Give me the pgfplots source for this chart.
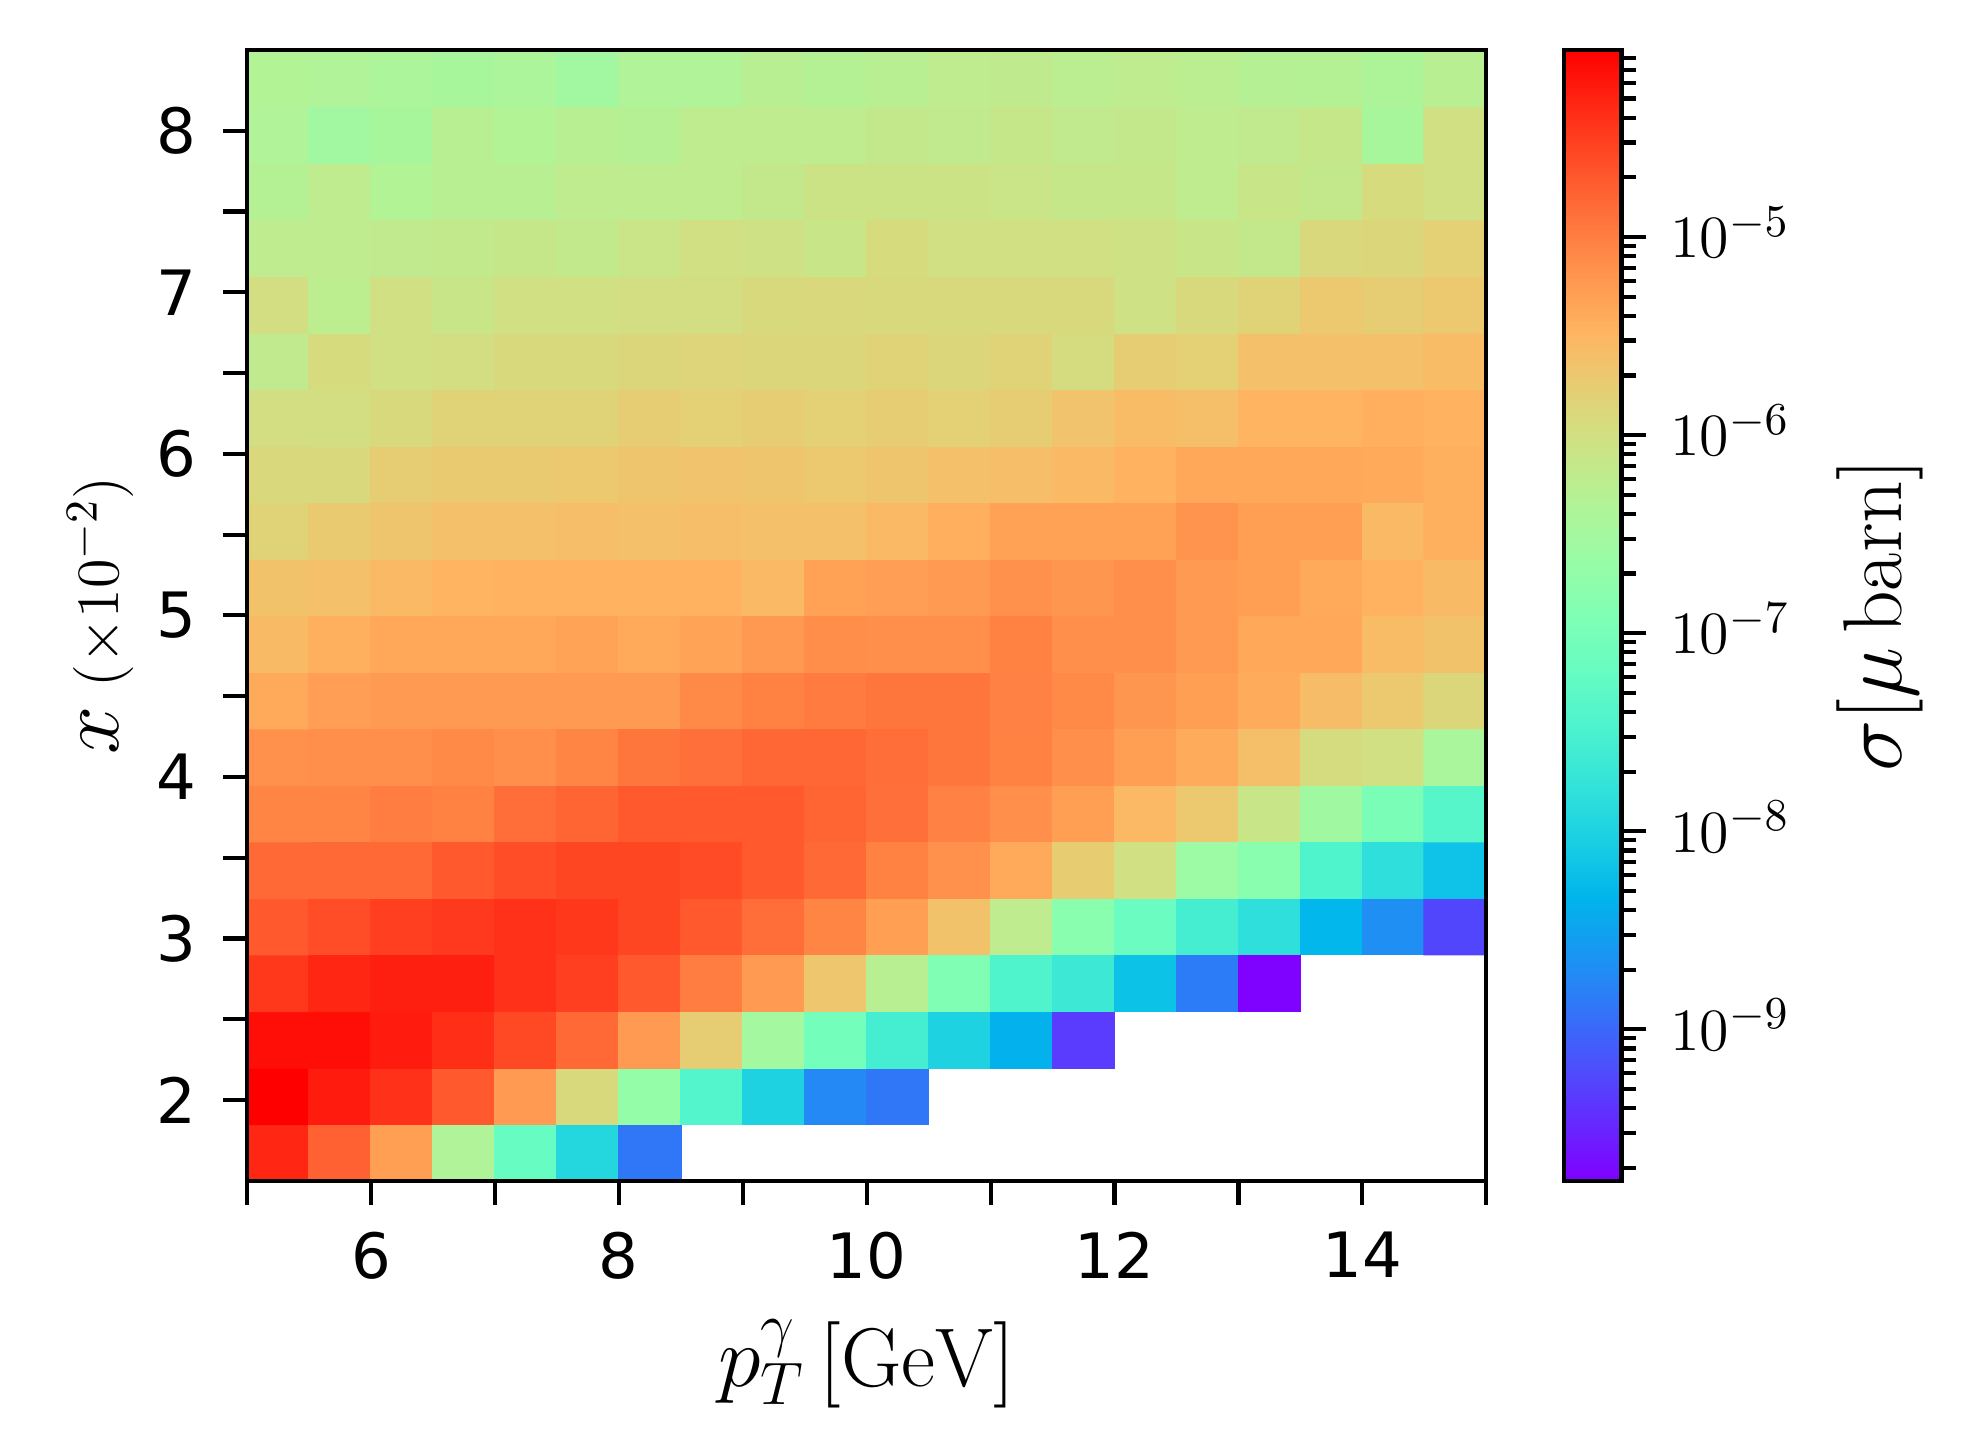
\documentclass[border=0pt]{standalone}
\usepackage{fontspec}
\usepackage{pgfplots}
\pgfplotsset{compat=1.18}
\newfontfamily\dejavu{DejaVu Sans}
\pgfplotsset{
  colormap={mplrainbow}{
    rgb=(0.5,0,1) rgb=(0.4,0.156,0.997) rgb=(0.3,0.309,0.988) rgb=(0.2,0.454,0.972)
    rgb=(0.1,0.588,0.951) rgb=(0,0.707,0.924) rgb=(0.1,0.809,0.891) rgb=(0.2,0.891,0.853)
    rgb=(0.3,0.951,0.809) rgb=(0.4,0.988,0.760) rgb=(0.5,1,0.707) rgb=(0.6,0.988,0.649)
    rgb=(0.7,0.951,0.588) rgb=(0.8,0.891,0.522) rgb=(0.9,0.809,0.454) rgb=(1,0.707,0.383)
    rgb=(1,0.588,0.309) rgb=(1,0.454,0.233) rgb=(1,0.309,0.156) rgb=(1,0.156,0.078)
    rgb=(1,0,0)
  }
}
% log10 of sigma [mu barn]; nan = empty bin
\pgfplotstableread{
x y v
5.25 1.675 -4.34
5.75 1.675 -4.77
6.25 1.675 -5.28
6.75 1.675 -6.37
7.25 1.675 -7.20
7.75 1.675 -7.94
8.25 1.675 -8.88
8.75 1.675 nan
9.25 1.675 nan
9.75 1.675 nan
10.25 1.675 nan
10.75 1.675 nan
11.25 1.675 nan
11.75 1.675 nan
12.25 1.675 nan
12.75 1.675 nan
13.25 1.675 nan
13.75 1.675 nan
14.25 1.675 nan
14.75 1.675 nan
5.25 2.025 -4.06
5.75 2.025 -4.25
6.25 2.025 -4.42
6.75 2.025 -4.71
7.25 2.025 -5.24
7.75 2.025 -5.92
8.25 2.025 -6.68
8.75 2.025 -7.42
9.25 2.025 -8.00
9.75 2.025 -8.74
10.25 2.025 -8.88
10.75 2.025 nan
11.25 2.025 nan
11.75 2.025 nan
12.25 2.025 nan
12.75 2.025 nan
13.25 2.025 nan
13.75 2.025 nan
14.25 2.025 nan
14.75 2.025 nan
5.25 2.375 -4.16
5.75 2.375 -4.16
6.25 2.375 -4.25
6.75 2.375 -4.39
7.25 2.375 -4.58
7.75 2.375 -4.83
8.25 2.375 -5.24
8.75 2.375 -5.76
9.25 2.375 -6.50
9.75 2.375 -7.05
10.25 2.375 -7.56
10.75 2.375 -8.00
11.25 2.375 -8.37
11.75 2.375 -9.33
12.25 2.375 nan
12.75 2.375 nan
13.25 2.375 nan
13.75 2.375 nan
14.25 2.375 nan
14.75 2.375 nan
5.25 2.725 -4.46
5.75 2.725 -4.34
6.25 2.725 -4.28
6.75 2.725 -4.28
7.25 2.725 -4.42
7.75 2.725 -4.51
8.25 2.725 -4.71
8.75 2.725 -4.99
9.25 2.725 -5.24
9.75 2.725 -5.68
10.25 2.725 -6.28
10.75 2.725 -6.91
11.25 2.725 -7.44
11.75 2.725 -7.66
12.25 2.725 -8.19
12.75 2.725 -8.84
13.25 2.725 -9.76
13.75 2.725 nan
14.25 2.725 nan
14.75 2.725 nan
5.25 3.075 -4.71
5.75 3.075 -4.62
6.25 3.075 -4.51
6.75 3.075 -4.47
7.25 3.075 -4.42
7.75 3.075 -4.46
8.25 3.075 -4.56
8.75 3.075 -4.71
9.25 3.075 -4.87
9.75 3.075 -5.06
10.25 3.075 -5.28
10.75 3.075 -5.63
11.25 3.075 -6.21
11.75 3.075 -6.80
12.25 3.075 -7.15
12.75 3.075 -7.56
13.25 3.075 -7.82
13.75 3.075 -8.31
14.25 3.075 -8.68
14.75 3.075 -9.26
5.25 3.425 -4.83
5.75 3.425 -4.83
6.25 3.425 -4.83
6.75 3.425 -4.71
7.25 3.425 -4.62
7.75 3.425 -4.56
8.25 3.425 -4.56
8.75 3.425 -4.61
9.25 3.425 -4.71
9.75 3.425 -4.83
10.25 3.425 -5.03
10.75 3.425 -5.16
11.25 3.425 -5.38
11.75 3.425 -5.74
12.25 3.425 -6.01
12.75 3.425 -6.59
13.25 3.425 -6.81
13.75 3.425 -7.44
14.25 3.425 -7.82
14.75 3.425 -8.18
5.25 3.775 -5.06
5.75 3.775 -5.06
6.25 3.775 -4.99
6.75 3.775 -5.03
7.25 3.775 -4.87
7.75 3.775 -4.79
8.25 3.775 -4.71
8.75 3.775 -4.71
9.25 3.775 -4.71
9.75 3.775 -4.79
10.25 3.775 -4.88
10.75 3.775 -5.02
11.25 3.775 -5.14
11.75 3.775 -5.28
12.25 3.775 -5.53
12.75 3.775 -5.70
13.25 3.775 -6.10
13.75 3.775 -6.55
14.25 3.775 -6.97
14.75 3.775 -7.38
5.25 4.125 -5.16
5.75 4.125 -5.14
6.25 4.125 -5.14
6.75 4.125 -5.10
7.25 4.125 -5.14
7.75 4.125 -5.06
8.25 4.125 -4.93
8.75 4.125 -4.88
9.25 4.125 -4.82
9.75 4.125 -4.82
10.25 4.125 -4.86
10.75 4.125 -4.93
11.25 4.125 -5.03
11.75 4.125 -5.14
12.25 4.125 -5.28
12.75 4.125 -5.40
13.25 4.125 -5.60
13.75 4.125 -5.96
14.25 4.125 -6.01
14.75 4.125 -6.45
5.25 4.475 -5.38
5.75 4.475 -5.27
6.25 4.475 -5.24
6.75 4.475 -5.24
7.25 4.475 -5.24
7.75 4.475 -5.24
8.25 4.475 -5.24
8.75 4.475 -5.10
9.25 4.475 -5.03
9.75 4.475 -4.97
10.25 4.475 -4.93
10.75 4.475 -4.93
11.25 4.475 -5.02
11.75 4.475 -5.10
12.25 4.475 -5.20
12.75 4.475 -5.28
13.25 4.475 -5.40
13.75 4.475 -5.57
14.25 4.475 -5.70
14.75 4.475 -5.88
5.25 4.825 -5.55
5.75 4.825 -5.44
6.25 4.825 -5.37
6.75 4.825 -5.37
7.25 4.825 -5.37
7.75 4.825 -5.33
8.25 4.825 -5.38
8.75 4.825 -5.33
9.25 4.825 -5.23
9.75 4.825 -5.13
10.25 4.825 -5.14
10.75 4.825 -5.14
11.25 4.825 -5.03
11.75 4.825 -5.14
12.25 4.825 -5.14
12.75 4.825 -5.24
13.25 4.825 -5.37
13.75 4.825 -5.37
14.25 4.825 -5.56
14.75 4.825 -5.63
5.25 5.175 -5.63
5.75 5.175 -5.61
6.25 5.175 -5.54
6.75 5.175 -5.48
7.25 5.175 -5.47
7.75 5.175 -5.47
8.25 5.175 -5.47
8.75 5.175 -5.47
9.25 5.175 -5.54
9.75 5.175 -5.31
10.25 5.175 -5.27
10.75 5.175 -5.24
11.25 5.175 -5.16
11.75 5.175 -5.20
12.25 5.175 -5.14
12.75 5.175 -5.24
13.25 5.175 -5.28
13.75 5.175 -5.38
14.25 5.175 -5.47
14.75 5.175 -5.55
5.25 5.525 -5.83
5.75 5.525 -5.72
6.25 5.525 -5.67
6.75 5.525 -5.61
7.25 5.525 -5.61
7.75 5.525 -5.59
8.25 5.525 -5.61
8.75 5.525 -5.59
9.25 5.525 -5.61
9.75 5.525 -5.61
10.25 5.525 -5.54
10.75 5.525 -5.43
11.25 5.525 -5.31
11.75 5.525 -5.31
12.25 5.525 -5.31
12.75 5.525 -5.18
13.25 5.525 -5.28
13.75 5.525 -5.28
14.25 5.525 -5.54
14.75 5.525 -5.44
5.25 5.875 -5.90
5.75 5.875 -5.90
6.25 5.875 -5.76
6.75 5.875 -5.72
7.25 5.875 -5.72
7.75 5.875 -5.70
8.25 5.875 -5.67
8.75 5.875 -5.65
9.25 5.875 -5.67
9.75 5.875 -5.70
10.25 5.875 -5.67
10.75 5.875 -5.61
11.25 5.875 -5.59
11.75 5.875 -5.54
12.25 5.875 -5.47
12.75 5.875 -5.37
13.25 5.875 -5.37
13.75 5.875 -5.37
14.25 5.875 -5.38
14.75 5.875 -5.44
5.25 6.225 -5.99
5.75 6.225 -5.99
6.25 6.225 -5.92
6.75 6.225 -5.83
7.25 6.225 -5.83
7.75 6.225 -5.83
8.25 6.225 -5.76
8.75 6.225 -5.79
9.25 6.225 -5.76
9.75 6.225 -5.79
10.25 6.225 -5.76
10.75 6.225 -5.79
11.25 6.225 -5.76
11.75 6.225 -5.65
12.25 6.225 -5.56
12.75 6.225 -5.60
13.25 6.225 -5.48
13.75 6.225 -5.48
14.25 6.225 -5.43
14.75 6.225 -5.47
5.25 6.575 -6.19
5.75 6.575 -5.94
6.25 6.575 -6.01
6.75 6.575 -5.99
7.25 6.575 -5.92
7.75 6.575 -5.92
8.25 6.575 -5.88
8.75 6.575 -5.85
9.25 6.575 -5.88
9.75 6.575 -5.88
10.25 6.575 -5.83
10.75 6.575 -5.88
11.25 6.575 -5.83
11.75 6.575 -5.96
12.25 6.575 -5.76
12.75 6.575 -5.79
13.25 6.575 -5.61
13.75 6.575 -5.61
14.25 6.575 -5.61
14.75 6.575 -5.56
5.25 6.925 -5.99
5.75 6.925 -6.23
6.25 6.925 -6.01
6.75 6.925 -6.10
7.25 6.925 -6.01
7.75 6.925 -6.01
8.25 6.925 -5.99
8.75 6.925 -5.99
9.25 6.925 -5.92
9.75 6.925 -5.90
10.25 6.925 -5.92
10.75 6.925 -5.92
11.25 6.925 -5.92
11.75 6.925 -5.92
12.25 6.925 -6.03
12.75 6.925 -5.92
13.25 6.925 -5.83
13.75 6.925 -5.70
14.25 6.925 -5.76
14.75 6.925 -5.70
5.25 7.275 -6.21
5.75 7.275 -6.21
6.25 7.275 -6.19
6.75 7.275 -6.17
7.25 7.275 -6.12
7.75 7.275 -6.17
8.25 7.275 -6.08
8.75 7.275 -6.01
9.25 7.275 -6.03
9.75 7.275 -6.10
10.25 7.275 -5.94
10.75 7.275 -6.01
11.25 7.275 -6.01
11.75 7.275 -6.01
12.25 7.275 -6.03
12.75 7.275 -6.10
13.25 7.275 -6.15
13.75 7.275 -5.90
14.25 7.275 -5.88
14.75 7.275 -5.79
5.25 7.625 -6.32
5.75 7.625 -6.21
6.25 7.625 -6.35
6.75 7.625 -6.28
7.25 7.625 -6.28
7.75 7.625 -6.21
8.25 7.625 -6.21
8.75 7.625 -6.21
9.25 7.625 -6.15
9.75 7.625 -6.05
10.25 7.625 -6.05
10.75 7.625 -6.05
11.25 7.625 -6.08
11.75 7.625 -6.12
12.25 7.625 -6.12
12.75 7.625 -6.21
13.25 7.625 -6.10
13.75 7.625 -6.15
14.25 7.625 -5.94
14.75 7.625 -6.01
5.25 7.975 -6.37
5.75 7.975 -6.52
6.25 7.975 -6.46
6.75 7.975 -6.28
7.25 7.975 -6.35
7.75 7.975 -6.28
8.25 7.975 -6.30
8.75 7.975 -6.21
9.25 7.975 -6.21
9.75 7.975 -6.21
10.25 7.975 -6.15
10.75 7.975 -6.19
11.25 7.975 -6.12
11.75 7.975 -6.19
12.25 7.975 -6.15
12.75 7.975 -6.21
13.25 7.975 -6.19
13.75 7.975 -6.12
14.25 7.975 -6.46
14.75 7.975 -6.01
5.25 8.325 -6.35
5.75 8.325 -6.37
6.25 8.325 -6.41
6.75 8.325 -6.46
7.25 8.325 -6.41
7.75 8.325 -6.52
8.25 8.325 -6.37
8.75 8.325 -6.37
9.25 8.325 -6.28
9.75 8.325 -6.32
10.25 8.325 -6.28
10.75 8.325 -6.21
11.25 8.325 -6.20
11.75 8.325 -6.26
12.25 8.325 -6.21
12.75 8.325 -6.26
13.25 8.325 -6.30
13.75 8.325 -6.32
14.25 8.325 -6.40
14.75 8.325 -6.28
}\sigmatable

\begin{document}
\begin{tikzpicture}
\useasboundingbox (-59.3pt,-66pt) rectangle (413.5pt,283.4pt);
\begin{axis}[
  at={(0,0)}, anchor=south west,
  scale only axis, width=297.4pt, height=271.4pt,
  xmin=5, xmax=15, ymin=1.5, ymax=8.5,
  enlargelimits=false,
  axis on top,
  colormap name=mplrainbow,
  point meta min=-9.765, point meta max=-4.056,
  xtick={6,8,10,12,14}, minor xtick={5,7,9,11,13,15},
  ytick={2,3,4,5,6,7,8}, minor ytick={2.5,3.5,4.5,5.5,6.5,7.5},
  xtick pos=bottom, ytick pos=left,
  tick align=outside,
  major tick length=5.7pt, minor tick length=5.7pt,
  every tick/.style={black, line width=1pt},
  axis line style={line width=1pt},
  /pgf/number format/assume math mode=true,
  ticklabel style={font=\dejavu\fontsize{15}{18}\selectfont},
  xticklabel style={yshift=-3pt},
  yticklabel style={xshift=-3pt},
  xlabel={$p_T^{\gamma}\,[\mathrm{GeV}]$},
  xlabel style={font=\fontsize{20}{24}\selectfont, at={(axis description cs:0.5,-0.1617)}, anchor=center},
  ylabel={$x$\hspace{4.5pt}{\fontsize{15}{18}\selectfont$(\times10^{-2})$}},
  ylabel style={font=\fontsize{20}{24}\selectfont, at={(axis description cs:-0.1184,0.5)}, anchor=center},
  colorbar,
  colorbar style={
    at={(parent axis.north east)}, anchor=north west, xshift=10.2pt,
    scale only axis, width=13.7pt, height=271.4pt,
    axis line style={line width=1pt},
    ytick={-9,-8,-7,-6,-5},
    yticklabels={$10^{-9}$,$10^{-8}$,$10^{-7}$,$10^{-6}$,$10^{-5}$},
    minor ytick={-9.699,-9.523,-9.398,-9.301,-9.222,-9.155,-9.097,-9.046,
      -8.699,-8.523,-8.398,-8.301,-8.222,-8.155,-8.097,-8.046,
      -7.699,-7.523,-7.398,-7.301,-7.222,-7.155,-7.097,-7.046,
      -6.699,-6.523,-6.398,-6.301,-6.222,-6.155,-6.097,-6.046,
      -5.699,-5.523,-5.398,-5.301,-5.222,-5.155,-5.097,-5.046,
      -4.699,-4.523,-4.398,-4.301,-4.222,-4.155,-4.097},
    ytick pos=right, yticklabel pos=right,
    tick align=outside,
    major tick length=6pt, minor tick length=3.6pt,
    every tick/.style={black, line width=1pt},
    yticklabel style={font=\fontsize{15.5}{18}\selectfont, anchor=base west, xshift=2.2pt, yshift=-5pt},
    ylabel={$\sigma[\mu\,\mathrm{barn}]$},
    ylabel style={font=\fontsize{20}{24}\selectfont, at={(axis description cs:5.53,0.5)}, anchor=center},
  },
]
\addplot[matrix plot*, mesh/cols=20, point meta=explicit, unbounded coords=jump]
  table[x=x, y=y, meta=v] {\sigmatable};
\end{axis}
\end{tikzpicture}
\end{document}
